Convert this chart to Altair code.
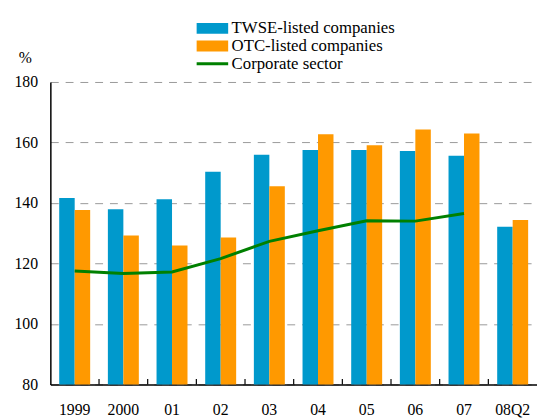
import altair as alt
import pandas as pd

categories = ["1999", "2000", "01", "02", "03", "04", "05", "06", "07", "08Q2"]
twse = [141.6, 137.9, 141.2, 150.3, 155.9, 157.5, 157.5, 157.2, 155.6, 132.1]
otc = [137.7, 129.2, 125.9, 128.6, 145.5, 162.7, 159.1, 164.3, 163.0, 134.4]
corporate = [117.5, 116.7, 117.2, 121.6, 127.3, 130.8, 134.1, 134.0, 136.5, None]

series_names = ["TWSE-listed companies", "OTC-listed companies", "Corporate sector"]
series_colors = ["#0099CC", "#FF9900", "#008000"]
legend_shapes = [
    "M-3.2,-1.1h6.4v2.2h-6.4z",
    "M-3.2,-1.1h6.4v2.2h-6.4z",
    "M-3.2,-0.3h6.4v0.6h-6.4z",
]
baseline = 80

bars_df = pd.DataFrame(
    [{"cat": c, "series": series_names[0], "value": v} for c, v in zip(categories, twse)]
    + [{"cat": c, "series": series_names[1], "value": v} for c, v in zip(categories, otc)]
)
line_df = pd.DataFrame(
    [{"cat": c, "value": v} for c, v in zip(categories, corporate) if v is not None]
)
tick_df = pd.DataFrame({"cat": categories[1:]})
legend_df = pd.DataFrame({"series": series_names})

FONT = "Liberation Serif"

x_scale = alt.Scale(domain=categories, paddingInner=0, paddingOuter=0)
x_axis = alt.Axis(
    title=None, labelAngle=0, ticks=False, tickSize=0, grid=False,
    domainColor="black", domainWidth=1.5, labelFont=FONT, labelFontSize=16,
    labelColor="black", labelPadding=18,
)
y_scale = alt.Scale(domain=[80, 180], zero=False, nice=False)
y_axis = alt.Axis(
    values=[80, 100, 120, 140, 160, 180], title="%", titleAngle=0,
    titleX=-26, titleY=-20, titleAlign="center", titleBaseline="alphabetic",
    titleFont=FONT, titleFontSize=16, titleFontWeight="normal", titleColor="black",
    grid=True, gridDash=[8, 7], gridColor="#999999", gridWidth=1,
    ticks=False, tickSize=0, labelPadding=13, labelFont=FONT, labelFontSize=16,
    labelColor="black", domainColor="black", domainWidth=1.5,
)
color_scale = alt.Scale(domain=series_names, range=series_colors)
legend = alt.Legend(
    title=None, orient="none", legendX=156, legendY=-63, symbolSize=100,
    symbolStrokeWidth=0, symbolOpacity=1, labelFont=FONT, labelFontSize=17,
    labelColor="black", labelOffset=11, rowPadding=0, padding=0, labelLimit=0,
)

bars = alt.Chart(bars_df).mark_bar().encode(
    x=alt.X("cat:N", sort=categories, scale=x_scale, axis=x_axis),
    xOffset=alt.XOffset(
        "series:N",
        scale=alt.Scale(domain=series_names[:2], paddingOuter=0.572, paddingInner=0),
    ),
    y=alt.Y("value:Q", scale=y_scale, axis=y_axis),
    y2=alt.datum(baseline),
    color=alt.Color("series:N", scale=color_scale, legend=legend),
)

line = alt.Chart(line_df).mark_line(color="#008000", strokeWidth=3).encode(
    x=alt.X("cat:N", sort=categories, axis=x_axis),
    y=alt.Y("value:Q", axis=y_axis),
)

ticks = alt.Chart(tick_df).mark_rule(color="black", strokeWidth=1.2).encode(
    x=alt.X("cat:N", sort=categories, bandPosition=0, axis=x_axis),
    y=alt.value(301.5),
    y2=alt.value(307),
)

legend_layer = alt.Chart(legend_df).mark_point(filled=True).encode(
    color=alt.Color("series:N", scale=color_scale, legend=legend),
    shape=alt.Shape("series:N", scale=alt.Scale(domain=series_names, range=legend_shapes), legend=legend),
).transform_filter("false")

chart = alt.layer(bars, ticks, line, legend_layer).properties(
    width=494,
    height=307,
    autosize=alt.AutoSizeParams(type="none"),
    padding={"left": 43, "top": 72, "right": 0, "bottom": 32},
).configure_view(stroke=None).configure_axis(
    labelFont=FONT, titleFont=FONT, labelColor="black", titleColor="black"
).configure_legend(labelFont=FONT)

chart.save("out.html", embed_options={"renderer": "svg", "actions": False})
